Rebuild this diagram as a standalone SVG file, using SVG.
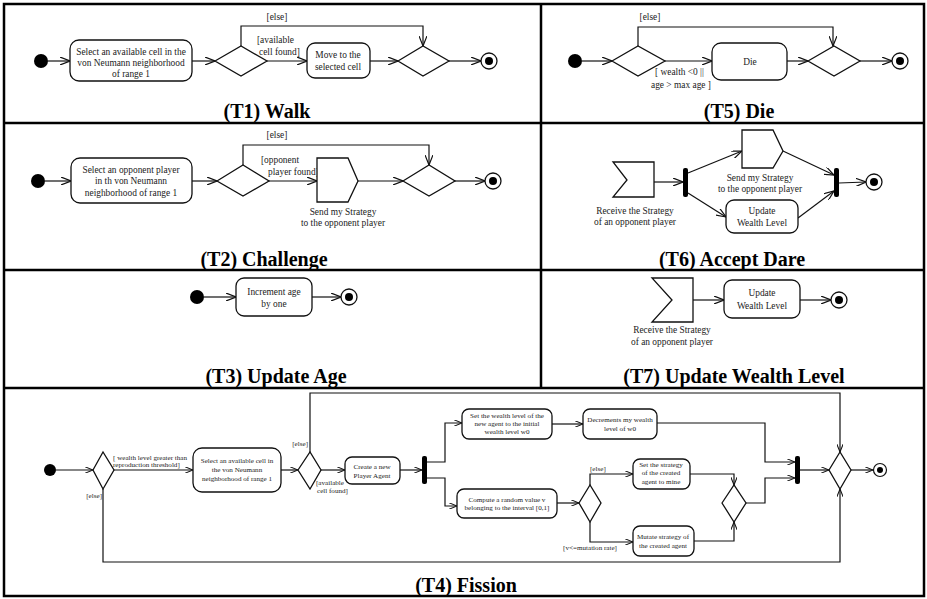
<svg xmlns="http://www.w3.org/2000/svg" width="927" height="599" viewBox="0 0 927 599">
<defs>
<style>
.frame{fill:none;stroke:#000;stroke-width:2.5}
.ln{fill:none;stroke:#111;stroke-width:1.2}
.nd{fill:#fff;stroke:#111;stroke-width:1.3}
.bar{fill:#000}
.t{font-family:"Liberation Serif","Times New Roman",serif;font-size:9.4px;fill:#222;text-anchor:middle}
.s{font-family:"Liberation Serif","Times New Roman",serif;font-size:7.1px;fill:#222;text-anchor:middle}
.l{text-anchor:start}
.e{text-anchor:end}
.ti{font-family:"Liberation Serif","Times New Roman",serif;font-size:20px;font-weight:bold;fill:#000;text-anchor:middle}
</style>
<marker id="a" viewBox="0 0 10 8" refX="10" refY="4" markerWidth="10" markerHeight="8" markerUnits="userSpaceOnUse" orient="auto"><path d="M0,0 L10,4 L0,8" fill="none" stroke="#111" stroke-width="1.2"/></marker>
<marker id="b" viewBox="0 0 10 8" refX="10" refY="4" markerWidth="8" markerHeight="6.4" markerUnits="userSpaceOnUse" orient="auto"><path d="M0,0 L10,4 L0,8" fill="none" stroke="#111" stroke-width="1.3"/></marker>
</defs>

<g id="frames">
<rect class="frame" x="4" y="4" width="920" height="592"/>
<line class="frame" x1="541" y1="4" x2="541" y2="388"/>
<line class="frame" x1="4" y1="123" x2="924" y2="123"/>
<line class="frame" x1="4" y1="270" x2="924" y2="270"/>
<line class="frame" x1="4" y1="388" x2="924" y2="388"/>
</g>

<g id="titles">
<text class="ti" x="267" y="118">(T1) Walk</text>
<text class="ti" x="739" y="118">(T5) Die</text>
<text class="ti" x="264" y="266">(T2) Challenge</text>
<text class="ti" x="732" y="266">(T6) Accept Dare</text>
<text class="ti" x="276" y="383">(T3) Update Age</text>
<text class="ti" x="734" y="383">(T7) Update Wealth Level</text>
<text class="ti" x="466" y="592">(T4) Fission</text>
</g>

<g id="connectors">
<!-- T1 -->
<line class="ln" x1="48" y1="61" x2="70" y2="61" marker-end="url(#a)"/>
<line class="ln" x1="192" y1="61" x2="215" y2="61" marker-end="url(#a)"/>
<polyline class="ln" points="241,46 241,26 423,26 423,46" marker-end="url(#a)"/>
<line class="ln" x1="267" y1="61" x2="307" y2="61" marker-end="url(#a)"/>
<line class="ln" x1="370" y1="61" x2="398" y2="61" marker-end="url(#a)"/>
<line class="ln" x1="449" y1="61" x2="481" y2="61" marker-end="url(#a)"/>
<text class="t" x="277" y="20">[else]</text>
<text class="t l" x="257" y="43">[available</text>
<text class="t l" x="259" y="55">cell  found]</text>
<!-- T5 -->
<line class="ln" x1="582" y1="61" x2="612" y2="61" marker-end="url(#a)"/>
<polyline class="ln" points="638,46 638,27 833,27 833,46" marker-end="url(#a)"/>
<line class="ln" x1="665" y1="61" x2="712" y2="61" marker-end="url(#a)"/>
<line class="ln" x1="787" y1="61" x2="808" y2="61" marker-end="url(#a)"/>
<line class="ln" x1="860" y1="61" x2="892" y2="61" marker-end="url(#a)"/>
<text class="t" x="650" y="20">[else]</text>
<text class="t l" x="655" y="75">[ wealth &lt;0 ||</text>
<text class="t l" x="651" y="88">age &gt; max age ]</text>
<!-- T2 -->
<line class="ln" x1="45" y1="181" x2="71" y2="181" marker-end="url(#a)"/>
<line class="ln" x1="192" y1="181" x2="217" y2="181" marker-end="url(#a)"/>
<polyline class="ln" points="243,165 243,145 429,145 429,165" marker-end="url(#a)"/>
<line class="ln" x1="269" y1="181" x2="317" y2="181" marker-end="url(#a)"/>
<line class="ln" x1="358" y1="181" x2="403" y2="181" marker-end="url(#a)"/>
<line class="ln" x1="455" y1="181" x2="485" y2="181" marker-end="url(#a)"/>
<text class="t" x="277" y="138">[else]</text>
<text class="t l" x="261" y="163">[opponent</text>
<text class="t l" x="268" y="175">player found]</text>
<!-- T6 -->
<line class="ln" x1="654" y1="182" x2="683" y2="182" marker-end="url(#a)"/>
<line class="ln" x1="688" y1="173" x2="742" y2="151" marker-end="url(#a)"/>
<line class="ln" x1="688" y1="193" x2="726" y2="217" marker-end="url(#a)"/>
<line class="ln" x1="783" y1="151" x2="834" y2="175" marker-end="url(#a)"/>
<line class="ln" x1="798" y1="218" x2="834" y2="191" marker-end="url(#a)"/>
<line class="ln" x1="839" y1="183" x2="866" y2="182" marker-end="url(#a)"/>
<!-- T3 -->
<line class="ln" x1="204" y1="297" x2="236" y2="297" marker-end="url(#a)"/>
<line class="ln" x1="312" y1="297" x2="341" y2="297" marker-end="url(#a)"/>
<!-- T7 -->
<line class="ln" x1="693" y1="300" x2="724" y2="300" marker-end="url(#a)"/>
<line class="ln" x1="800" y1="300" x2="831" y2="300" marker-end="url(#a)"/>
<!-- T4 -->
<line class="ln" x1="56" y1="470" x2="93" y2="470" marker-end="url(#b)"/>
<line class="ln" x1="114" y1="470" x2="193" y2="470" marker-end="url(#b)"/>
<polyline class="ln" points="103,489 103,562 840,562 840,489" marker-end="url(#b)"/>
<line class="ln" x1="281" y1="470" x2="298" y2="470" marker-end="url(#b)"/>
<polyline class="ln" points="310,452 310,393 840,393 840,452" marker-end="url(#b)"/>
<line class="ln" x1="321" y1="470" x2="345" y2="470" marker-end="url(#b)"/>
<line class="ln" x1="400" y1="470" x2="422" y2="470" marker-end="url(#b)"/>
<polyline class="ln" points="427,462 445,462 445,423 462,423" marker-end="url(#b)"/>
<line class="ln" x1="552" y1="424" x2="583" y2="424" marker-end="url(#b)"/>
<polyline class="ln" points="657,423 765,423 765,462 795,462" marker-end="url(#b)"/>
<polyline class="ln" points="427,478 445,478 445,506 457,506" marker-end="url(#b)"/>
<line class="ln" x1="557" y1="503" x2="579" y2="503" marker-end="url(#b)"/>
<polyline class="ln" points="590,485 590,474 633,474" marker-end="url(#b)"/>
<polyline class="ln" points="590,522 590,542 633,542" marker-end="url(#b)"/>
<polyline class="ln" points="690,474 734,474 734,485" marker-end="url(#b)"/>
<polyline class="ln" points="694,541 734,541 734,522" marker-end="url(#b)"/>
<polyline class="ln" points="746,503 765,503 765,478 795,478" marker-end="url(#b)"/>
<line class="ln" x1="800" y1="470" x2="829" y2="470" marker-end="url(#b)"/>
<line class="ln" x1="851" y1="470" x2="873" y2="470" marker-end="url(#b)"/>
<text class="s l" x="113" y="460">[ wealth level greater than</text>
<text class="s l" x="113" y="467">reproduction threshold]</text>
<text class="s e" x="102" y="498">[else]</text>
<text class="s e" x="308" y="446">[else]</text>
<text class="s l" x="316" y="485">[available</text>
<text class="s l" x="317" y="493">cell found]</text>
<text class="s l" x="590" y="471">[else]</text>
<text class="s" x="590" y="550">[v&lt;=mutation rate]</text>
</g>

<!-- T1 nodes -->
<g id="t1-start"><circle cx="41" cy="61" r="7" fill="#000"/></g>
<g id="t1-select"><rect class="nd" x="70" y="40" width="122" height="41" rx="9"/><text class="t" x="131" y="55">Select an available cell in the</text><text class="t" x="131" y="66">von Neumann neighborhood</text><text class="t" x="131" y="77">of range 1</text></g>
<g id="t1-dec"><polygon class="nd" points="215,61 241,46 267,61 241,76"/></g>
<g id="t1-move"><rect class="nd" x="307" y="43" width="63" height="35" rx="8"/><text class="t" x="338" y="58">Move to the</text><text class="t" x="338" y="70">selected cell</text></g>
<g id="t1-merge"><polygon class="nd" points="398,61 423,46 449,61 423,76"/></g>
<g id="t1-end"><circle cx="489" cy="61" r="8" fill="#fff" stroke="#111" stroke-width="1.3"/><circle cx="489" cy="61" r="4" fill="#000"/></g>

<!-- T5 nodes -->
<g id="t5-start"><circle cx="575" cy="61" r="7" fill="#000"/></g>
<g id="t5-dec"><polygon class="nd" points="612,61 638,46 665,61 638,76"/></g>
<g id="t5-die"><rect class="nd" x="712" y="43" width="75" height="37" rx="9"/><text class="t" x="750" y="65">Die</text></g>
<g id="t5-merge"><polygon class="nd" points="808,61 834,46 860,61 834,76"/></g>
<g id="t5-end"><circle cx="900" cy="61" r="8" fill="#fff" stroke="#111" stroke-width="1.3"/><circle cx="900" cy="61" r="4" fill="#000"/></g>

<!-- T2 nodes -->
<g id="t2-start"><circle cx="38" cy="181" r="7" fill="#000"/></g>
<g id="t2-select"><rect class="nd" x="71" y="158" width="121" height="45" rx="9"/><text class="t" x="131" y="173">Select an opponent  player</text><text class="t" x="131" y="184">in th von Neumann</text><text class="t" x="131" y="196">neighborhood of range 1</text></g>
<g id="t2-dec"><polygon class="nd" points="217,181 243,165 269,181 243,196"/></g>
<g id="t2-send"><polygon class="nd" points="317,158 348,158 358,181 348,202 317,202"/><text class="t" x="343" y="215">Send my Strategy</text><text class="t" x="343" y="226">to the opponent  player</text></g>
<g id="t2-merge"><polygon class="nd" points="403,181 429,165 455,181 429,196"/></g>
<g id="t2-end"><circle cx="493" cy="181" r="8" fill="#fff" stroke="#111" stroke-width="1.3"/><circle cx="493" cy="181" r="4" fill="#000"/></g>

<!-- T6 nodes -->
<g id="t6-receive"><polygon class="nd" points="613,162 654,162 654,197 613,197 627,180"/><text class="t" x="635" y="214">Receive the Strategy</text><text class="t" x="635" y="225">of an opponent player</text></g>
<g id="t6-fork"><rect class="bar" x="683" y="168" width="5" height="29" rx="2"/></g>
<g id="t6-send"><polygon class="nd" points="742,130 773,130 783,151 773,168 742,168"/><text class="t" x="760" y="181">Send my Strategy</text><text class="t" x="760" y="192">to the opponent  player</text></g>
<g id="t6-update"><rect class="nd" x="726" y="200" width="72" height="33" rx="8"/><text class="t" x="762" y="214">Update</text><text class="t" x="762" y="226">Wealth Level</text></g>
<g id="t6-join"><rect class="bar" x="834" y="168" width="5" height="29" rx="2"/></g>
<g id="t6-end"><circle cx="874" cy="182" r="8" fill="#fff" stroke="#111" stroke-width="1.3"/><circle cx="874" cy="182" r="4" fill="#000"/></g>

<!-- T3 nodes -->
<g id="t3-start"><circle cx="197" cy="297" r="7" fill="#000"/></g>
<g id="t3-inc"><rect class="nd" x="236" y="278" width="76" height="38" rx="8"/><text class="t" x="274" y="295">Increment age</text><text class="t" x="274" y="307">by one</text></g>
<g id="t3-end"><circle cx="349" cy="297" r="8" fill="#fff" stroke="#111" stroke-width="1.3"/><circle cx="349" cy="297" r="4" fill="#000"/></g>

<!-- T7 nodes -->
<g id="t7-receive"><polygon class="nd" points="652,278 693,278 693,322 652,322 672,300"/><text class="t" x="672" y="333">Receive the Strategy</text><text class="t" x="672" y="345">of an opponent  player</text></g>
<g id="t7-update"><rect class="nd" x="724" y="280" width="76" height="38" rx="8"/><text class="t" x="762" y="296">Update</text><text class="t" x="762" y="309">Wealth Level</text></g>
<g id="t7-end"><circle cx="839" cy="300" r="8" fill="#fff" stroke="#111" stroke-width="1.3"/><circle cx="839" cy="300" r="4" fill="#000"/></g>

<!-- T4 nodes -->
<g id="t4-start"><circle cx="50" cy="470" r="6" fill="#000"/></g>
<g id="t4-d1"><polygon class="nd" points="93,470 103,452 114,470 103,489"/></g>
<g id="t4-select"><rect class="nd" x="193" y="448" width="88" height="44" rx="9"/><text class="s" x="237" y="463">Select an available cell in</text><text class="s" x="237" y="472">the von Neumann</text><text class="s" x="237" y="481">neighborhood of range 1</text></g>
<g id="t4-d2"><polygon class="nd" points="298,470 310,452 321,470 310,489"/></g>
<g id="t4-create"><rect class="nd" x="345" y="457" width="55" height="27" rx="7"/><text class="s" x="372" y="469">Create a new</text><text class="s" x="372" y="478">Player Agent</text></g>
<g id="t4-fork"><rect class="bar" x="422" y="456" width="5" height="28" rx="2"/></g>
<g id="t4-setwealth"><rect class="nd" x="462" y="409" width="90" height="30" rx="7"/><text class="s" x="507" y="418">Set the wealth level of the</text><text class="s" x="507" y="426">new agent to the initial</text><text class="s" x="507" y="434">wealth level  w0</text></g>
<g id="t4-decrement"><rect class="nd" x="583" y="409" width="74" height="30" rx="7"/><text class="s" x="620" y="422">Decrements  my wealth</text><text class="s" x="620" y="431">level of w0</text></g>
<g id="t4-compute"><rect class="nd" x="457" y="489" width="100" height="29" rx="7"/><text class="s" x="507" y="502">Compute a random value  v</text><text class="s" x="507" y="510">belonging to the interval [0,1]</text></g>
<g id="t4-d3"><polygon class="nd" points="579,503 590,485 601,503 590,522"/></g>
<g id="t4-setstrategy"><rect class="nd" x="633" y="459" width="57" height="30" rx="7"/><text class="s" x="661" y="467">Set the strategy</text><text class="s" x="661" y="475">of the created</text><text class="s" x="661" y="484">agent to mine</text></g>
<g id="t4-mutate"><rect class="nd" x="633" y="526" width="61" height="30" rx="7"/><text class="s" x="663" y="539">Mutate strategy of</text><text class="s" x="663" y="548">the created agent</text></g>
<g id="t4-d4"><polygon class="nd" points="722,503 734,485 746,503 734,522"/></g>
<g id="t4-join"><rect class="bar" x="795" y="456" width="5" height="28" rx="2"/></g>
<g id="t4-d5"><polygon class="nd" points="829,470 840,452 851,470 840,489"/></g>
<g id="t4-end"><circle cx="880" cy="470" r="6.5" fill="#fff" stroke="#111" stroke-width="1.2"/><circle cx="880" cy="470" r="3" fill="#000"/></g>
</svg>
